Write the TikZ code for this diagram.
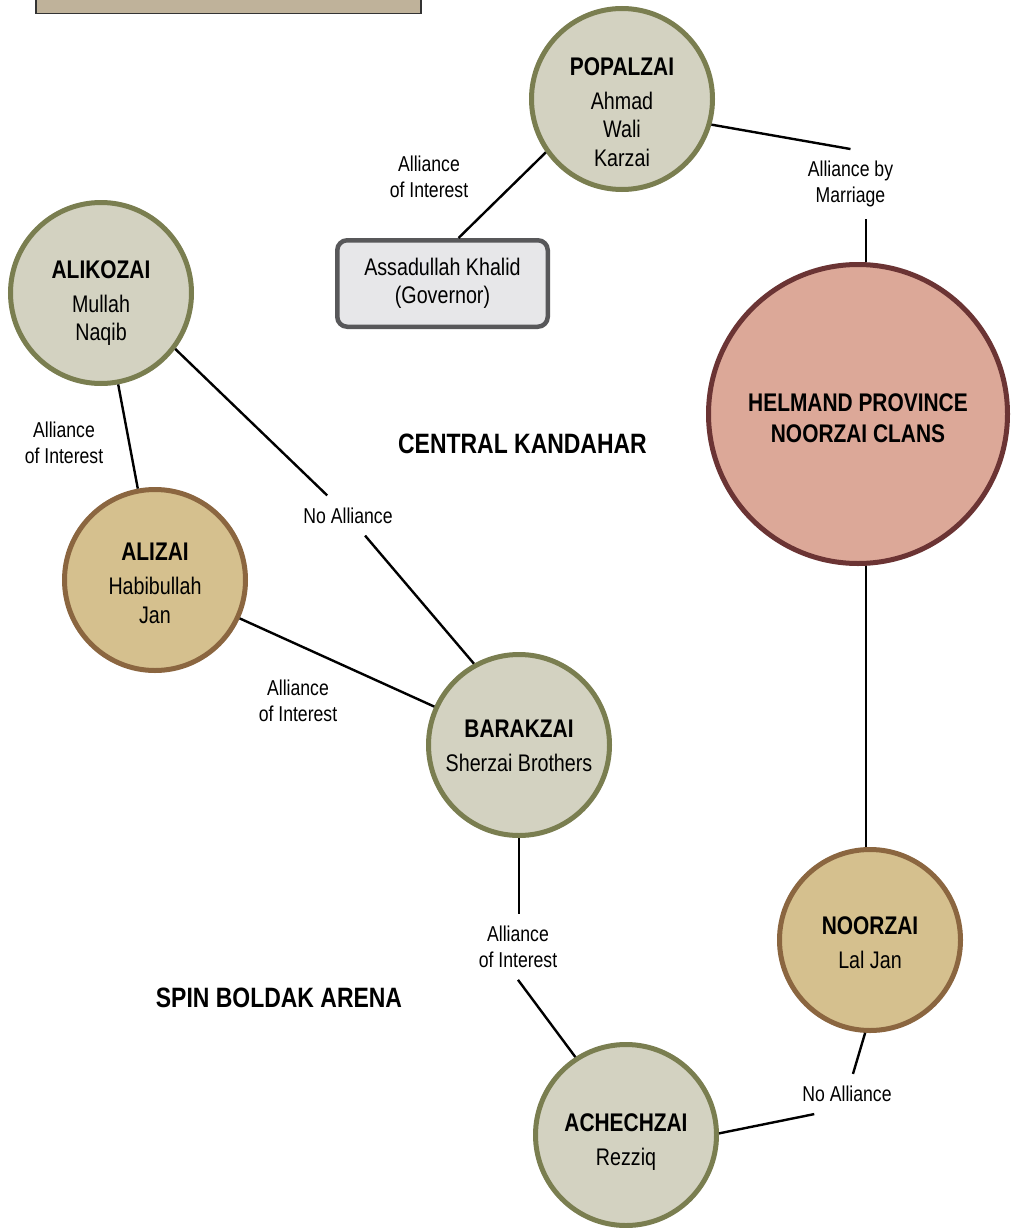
\documentclass[tikz,border=0pt]{standalone}
\usepackage{fontspec}
\setmainfont{Liberation Sans}[FakeStretch=0.82]
\definecolor{olivefill}{HTML}{D3D2C1}
\definecolor{oliveline}{HTML}{7A7E50}
\definecolor{tanfill}{HTML}{D5C08E}
\definecolor{tanline}{HTML}{8B6640}
\definecolor{redfill}{HTML}{DCA898}
\definecolor{redline}{HTML}{6B3434}
\definecolor{govfill}{HTML}{E7E7E9}
\definecolor{govline}{HTML}{58585A}
\definecolor{topfill}{HTML}{BFB29A}
\newcommand\myBody{\fontsize{24}{28.5}\selectfont}
\newcommand\myTitle{\bfseries\fontsize{25.5}{30}\selectfont}
\newcommand\myLbl{\fontsize{21.5}{25.5}\selectfont}
\newcommand\myHead{\bfseries\fontsize{28}{32}\selectfont}
\begin{document}
\begin{tikzpicture}[x=1pt,y=-1pt,
  clan/.style={circle, draw=oliveline, fill=olivefill, line width=5pt, minimum size=181pt, inner sep=0pt},
  tanclan/.style={clan, draw=tanline, fill=tanfill},
  bigclan/.style={clan, draw=redline, fill=redfill, minimum size=299pt},
  txt/.style={align=center, inner sep=0pt, anchor=north, font=\myBody},
  lbl/.style={align=center, inner sep=12pt, font=\myLbl},
  head/.style={inner sep=0pt, font=\myHead},
  conn/.style={line width=2.4pt, black},
  govbox/.style={draw=govline, fill=govfill, line width=4.5pt, rounded corners=10pt,
     minimum width=210.5pt, minimum height=86.5pt, align=center, font=\myBody}]
\useasboundingbox (0,0) rectangle (1010,1228);
% top box
\draw[fill=topfill, draw=black!80, line width=1.6pt] (36,-10) rectangle (421,13.5);
% circles
\node[clan] (pop) at (622,99) {};
\node[clan] (alik) at (101,293) {};
\node[tanclan] (aliz) at (155,580) {};
\node[clan] (bar) at (519,745) {};
\node[bigclan] (helm) at (858,414) {};
\node[tanclan] (noor) at (870,940) {};
\node[clan] (ach) at (626,1135) {};
\node[govbox] (gov) at (442.5,283.5) {Assadullah Khalid\\(Governor)};
% circle texts
\node[txt] (popT) at (622,57) {{\myTitle POPALZAI}\\[5.5pt]Ahmad\\Wali\\Karzai};
\node[txt] (alikT) at (101,260) {{\myTitle ALIKOZAI}\\[5.5pt]Mullah\\Naqib};
\node[txt] (alizT) at (155,543) {{\myTitle ALIZAI}\\[5.5pt]Habibullah\\Jan};
\node[txt] (barT) at (519,720) {{\myTitle BARAKZAI}\\[5.5pt]Sherzai Brothers};
\node[txt, font=\myTitle\fontsize{25.5}{31}\selectfont] (helmT) at (858,393) {HELMAND PROVINCE\\NOORZAI CLANS};
\node[txt] (noorT) at (870,916) {{\myTitle NOORZAI}\\[5.5pt]Lal Jan};
\node[txt] (achT) at (626,1113) {{\myTitle ACHECHZAI}\\[5.5pt]Rezziq};
% headers
\node[head] (central) at (522.5,444) {CENTRAL KANDAHAR};
\node[head] (spin) at (279,998) {SPIN BOLDAK ARENA};
% labels
\node[lbl] (lblA1) at (429,177) {Alliance\\of Interest};
\node[lbl] (lblM) at (850.5,184) {Alliance by\\Marriage};
\node[lbl] (lblA2) at (64,443) {Alliance\\of Interest};
\node[lbl] (lblN1) at (348,515.5) {No Alliance};
\node[lbl] (lblA3) at (298,701) {Alliance\\of Interest};
\node[lbl] (lblA4) at (518,947) {Alliance\\of Interest};
\node[lbl] (lblN2) at (847,1094) {No Alliance};
% connectors
\draw[conn] (pop.215) -- ([xshift=16pt]gov.north);
\draw[conn] (pop.-16) -- (lblM.north);
\draw[conn] (helm.87) -- (helm.87 |- lblM.south);
\draw[conn] (alik) -- (aliz);
\draw[conn] (alik.-37) -- (lblN1);
\draw[conn] (lblN1) -- (bar.119);
\draw[conn] (aliz) -- (bar);
\draw[conn] (bar.south) -- (bar.south |- lblA4.north);
\draw[conn] (lblA4.south) -- (ach.123);
\draw[conn] (helm.-87) -- (helm.-87 |- noor.north);
\draw[conn] (noor.-93) -- (lblN2);
\draw[conn] (ach.1) -- ([xshift=24pt]lblN2.south west);
\end{tikzpicture}
\end{document}
